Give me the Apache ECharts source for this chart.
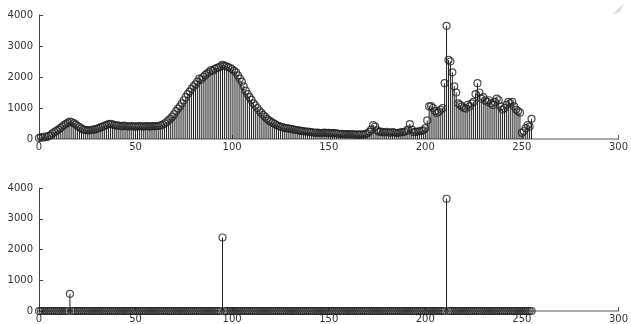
<!DOCTYPE html>
<html>
<head>
<meta charset="utf-8">
<script src="https://cdn.jsdelivr.net/npm/echarts@6/dist/echarts.min.js"></script>
<style>
  html, body { margin: 0; padding: 0; background: #fff; }
  #chart { width: 631px; height: 324px; }
</style>
</head>
<body>
<div id="chart"></div>
<script>
// histogram counts for gray levels 0..255 (top plot)
const histCounts = [
  30, 60, 40, 80, 60, 100, 120, 180, 220, 260,
  300, 350, 400, 450, 490, 530, 560, 540, 510, 470,
  420, 380, 340, 300, 290, 280, 280, 290, 300, 310,
  330, 350, 380, 400, 430, 450, 480, 490, 470, 450,
  430, 440, 420, 410, 430, 420, 400, 410, 420, 400,
  410, 400, 420, 410, 400, 410, 420, 400, 410, 420,
  410, 420, 420, 440, 460, 500, 540, 600, 660, 720,
  800, 900, 980, 1050, 1150, 1250, 1350, 1450, 1530, 1620,
  1700, 1760, 1850, 1950, 1920, 2000, 2060, 2110, 2160, 2220,
  2200, 2260, 2290, 2310, 2340, 2390, 2370, 2340, 2320, 2290,
  2250, 2200, 2150, 2050, 1950, 1850, 1700, 1560, 1450, 1350,
  1260, 1150, 1080, 1000, 920, 850, 780, 720, 650, 600,
  560, 520, 490, 450, 420, 400, 380, 360, 350, 340,
  330, 320, 300, 290, 280, 270, 260, 250, 240, 240,
  230, 220, 210, 200, 210, 200, 190, 200, 210, 190,
  200, 190, 180, 190, 180, 170, 160, 170, 160, 150,
  160, 150, 160, 150, 140, 150, 140, 150, 140, 160,
  180, 230, 300, 450, 400, 280, 230, 240, 220, 210,
  230, 210, 200, 220, 210, 190, 200, 210, 220, 230,
  250, 300, 480, 300, 220, 230, 240, 250, 260, 280,
  350, 600, 1050, 1060, 1000, 900, 840, 880, 950, 1000,
  1800, 3650, 2550, 2500, 2150, 1700, 1500, 1150, 1100, 1050,
  1000, 980, 1100, 1050, 1150, 1200, 1450, 1800, 1500, 1300,
  1350, 1250, 1200, 1250, 1150, 1100, 1200, 1300, 1250, 1050,
  950, 1000, 1100, 1200, 1150, 1200, 1050, 950, 900, 850,
  200, 250, 350, 450, 400, 650
];

// local maxima kept in the bottom plot (all other levels are zero)
const peakLevels = [16, 95, 211];
const peakCounts = [560, 2390, 3650];

const xTicks = [0, 50, 100, 150, 200, 250, 300];
const yTicks = [0, 1000, 2000, 3000, 4000];

const levels = histCounts.map((v, i) => i);
const topData = levels.map(i => [i, histCounts[i]]);
const bottomData = levels.map(i => {
  const k = peakLevels.indexOf(i);
  return [i, k >= 0 ? peakCounts[k] : 0];
});

const labelFont = { fontFamily: 'DejaVu Sans', fontSize: 10, color: '#333' };

function xAxisFor(gridIndex) {
  return {
    type: 'value', gridIndex: gridIndex,
    min: xTicks[0], max: xTicks[xTicks.length - 1], interval: 50,
    axisLine: { show: true, onZero: false, lineStyle: { color: '#aaa', width: 2 } },
    axisTick: { show: true, inside: true, length: 4, lineStyle: { color: '#555' } },
    axisLabel: Object.assign({ margin: 3, formatter: v => String(v) }, labelFont),
    splitLine: { show: false }
  };
}
function yAxisFor(gridIndex) {
  return {
    type: 'value', gridIndex: gridIndex,
    min: yTicks[0], max: yTicks[yTicks.length - 1], interval: 1000,
    axisLine: { show: true, lineStyle: { color: '#444', width: 1 } },
    axisTick: { show: true, inside: true, length: 4, lineStyle: { color: '#444' } },
    axisLabel: Object.assign({ margin: 6, formatter: v => String(v) }, labelFont),
    splitLine: { show: false }
  };
}

function stems(idx, data) {
  return {
    type: 'bar', xAxisIndex: idx, yAxisIndex: idx,
    data: data, barWidth: 1, silent: true,
    itemStyle: { color: '#222' }
  };
}
function marks(idx, data) {
  return {
    type: 'scatter', xAxisIndex: idx, yAxisIndex: idx,
    data: data, symbol: 'circle', symbolSize: 7, silent: true,
    itemStyle: { color: 'rgba(255,255,255,0)', borderColor: '#222', borderWidth: 1.2 }
  };
}

const chart = echarts.init(document.getElementById('chart'), null, { renderer: 'canvas' });
chart.setOption({
  animation: false,
  backgroundColor: '#fff',
  grid: [
    { left: 39, right: 9, top: 15, height: 124 },
    { left: 39, right: 9, top: 188, height: 124 }
  ],
  xAxis: [xAxisFor(0), xAxisFor(1)],
  yAxis: [yAxisFor(0), yAxisFor(1)],
  graphic: [{
    type: 'polygon', silent: true,
    shape: { points: [[612, 15], [624, 3], [620, 12]] },
    style: { fill: '#ddd' }
  }],
  series: [
    stems(0, topData), marks(0, topData),
    stems(1, bottomData), marks(1, bottomData)
  ]
});
</script>
</body>
</html>
